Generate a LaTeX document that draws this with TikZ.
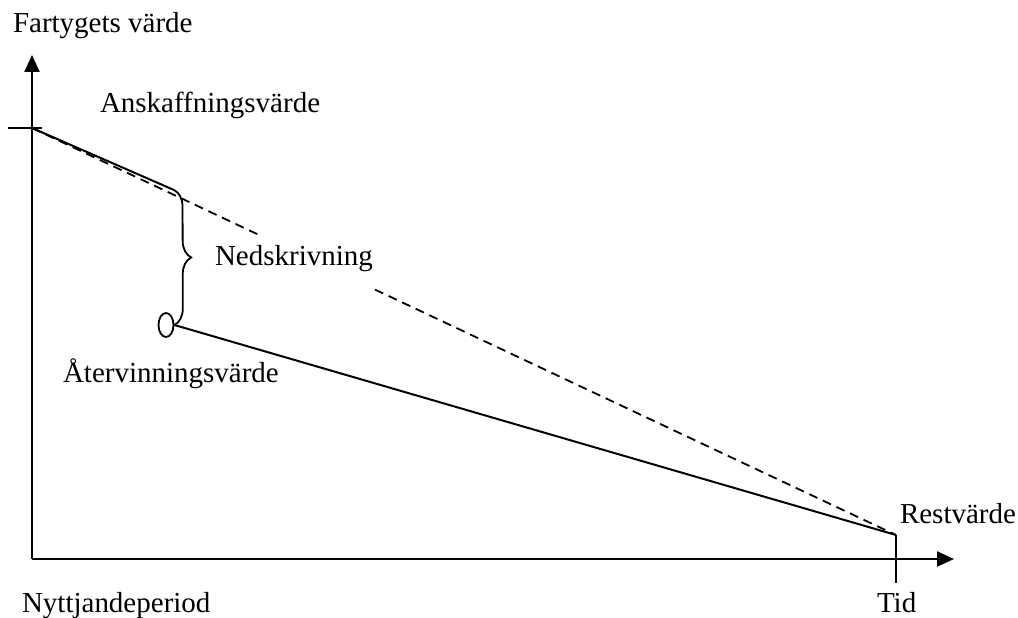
\documentclass[tikz,border=0pt]{standalone}
\usepackage{fontspec}
\setmainfont{Liberation Serif}
\usetikzlibrary{arrows.meta,shapes.geometric,decorations.pathreplacing,calc}
\begin{document}
\begin{tikzpicture}[x=1pt,y=-1pt,
  lbl/.style={font=\fontsize{29}{34}\selectfont, anchor=base west, inner sep=0pt, outer sep=0pt},
  axis/.style={line width=2.3pt, -{Triangle[length=17pt,width=15pt]}},
  ln/.style={line width=2pt},
  dsh/.style={line width=1.8pt, dash pattern=on 9pt off 6pt}]
\useasboundingbox (0,0) rectangle (1018,618);
% coordinates
\coordinate (O) at (32,559);
\coordinate (Ytop) at (32,55);
\coordinate (Xend) at (954,559);
\coordinate (A) at (32,128);
\coordinate (Atick) at (8,128);
\coordinate (Atick2) at (42,128);
\coordinate (B) at (174,190);
\coordinate (R) at (896,535);
\coordinate (Rt) at (896,583);
\coordinate (D1) at ($(A)!0.262!(R)$);
\coordinate (D2) at ($(A)!0.397!(R)$);
\node[ellipse, draw, line width=1.8pt, minimum width=15pt, minimum height=24pt, inner sep=0pt] (E) at (166,325) {};
% axes
\draw[axis] (O) -- (Ytop);
\draw[axis] (O) -- (Xend);
\draw[ln] (Atick) -- (Atick2);
\draw[ln] (R) -- (Rt);
% value lines
\draw[ln] (A) -- (B);
\draw[ln] (E.east) -- (R);
\draw[dsh] (A) -- (D1);
\draw[dsh] (D2) -- (R);
% brace
\draw[line width=1.8pt, decorate, decoration={brace, amplitude=17pt}] (B) -- (E.east);
% labels
\node[lbl] (fv) at (13,33) {Fartygets värde};
\node[lbl] (ak) at (100,112) {Anskaffningsvärde};
\node[lbl] (ned) at (215,265) {Nedskrivning};
\node[lbl] (atv) at (63,382) {Återvinningsvärde};
\node[lbl] (rest) at (900,523) {Restvärde};
\node[lbl] (nyt) at (22,612) {Nyttjandeperiod};
\node[lbl] (tid) at (877,612) {Tid};
\end{tikzpicture}
\end{document}
